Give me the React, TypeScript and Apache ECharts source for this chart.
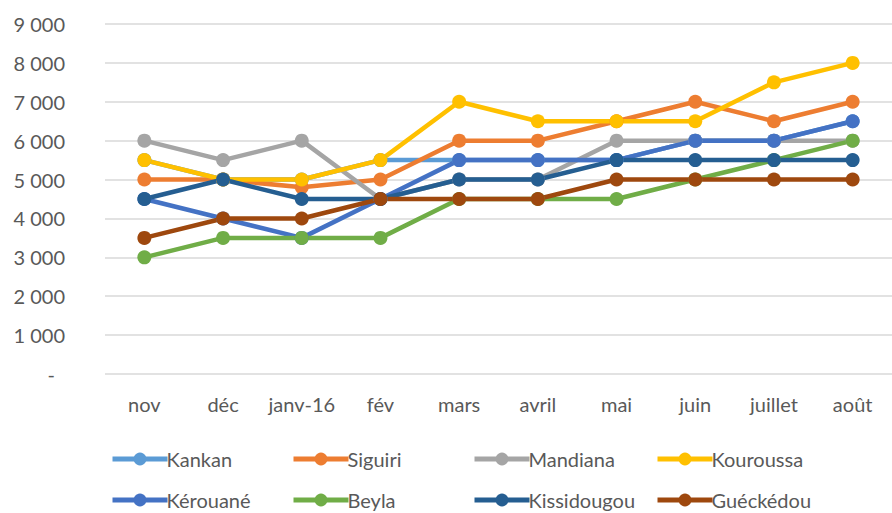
import React, { useEffect, useRef } from "react";
import * as echarts from "echarts";

const categories = ["nov", "déc", "janv-16", "fév", "mars", "avril", "mai", "juin", "juillet", "août"];
const seriesNames = ["Kankan", "Siguiri", "Mandiana", "Kouroussa", "Kérouané", "Beyla", "Kissidougou", "Guéckédou"];
const colors = ["#5B9BD5", "#ED7D31", "#A5A5A5", "#FFC000", "#4472C4", "#70AD47", "#255E91", "#9E480E"];
const kankan = [5500, 5000, 5000, 5500, 5500, 5500, 5500, 6000, 6000, 6500];
const siguiri = [5000, 5000, 4800, 5000, 6000, 6000, 6500, 7000, 6500, 7000];
const mandiana = [6000, 5500, 6000, 4500, 5000, 5000, 6000, 6000, 6000, 6000];
const kouroussa = [5500, 5000, 5000, 5500, 7000, 6500, 6500, 6500, 7500, 8000];
const kerouane = [4500, 4000, 3500, 4500, 5500, 5500, 5500, 6000, 6000, 6500];
const beyla = [3000, 3500, 3500, 3500, 4500, 4500, 4500, 5000, 5500, 6000];
const kissidougou = [4500, 5000, 4500, 4500, 5000, 5000, 5500, 5500, 5500, 5500];
const gueckedou = [3500, 4000, 4000, 4500, 4500, 4500, 5000, 5000, 5000, 5000];
const allData = [kankan, siguiri, mandiana, kouroussa, kerouane, beyla, kissidougou, gueckedou];

const FONT = "Lato";
const TEXT = "#595959";
const legendLeft = [105, 286, 467, 650];
const legendTop = [444, 485];

export default function App() {
  const ref = useRef<HTMLDivElement>(null);
  useEffect(() => {
    if (!ref.current) return;
    const chart = echarts.init(ref.current, undefined, { renderer: "svg" });
    chart.setOption({
      animation: false,
      grid: { left: 105, top: 24, width: 793, bottom: 139, containLabel: false },
      xAxis: {
        type: "category",
        data: categories,
        boundaryGap: true,
        axisLine: { show: false },
        axisTick: { show: false },
        axisLabel: { color: TEXT, fontFamily: FONT, fontSize: 20, margin: 20, interval: 0 },
      },
      yAxis: {
        type: "value",
        min: 0,
        max: 9000,
        interval: 1000,
        axisLine: { show: false },
        axisTick: { show: false },
        splitLine: { lineStyle: { color: "#D9D9D9", width: 1.5 } },
        axisLabel: {
          color: TEXT,
          fontFamily: FONT,
          fontSize: 20,
          margin: 40,
          formatter: (v: number) =>
            v === 0 ? "{d|-}" : String(v).replace(/\B(?=(\d{3})+(?!\d))/g, " "),
          rich: { d: { color: TEXT, fontFamily: FONT, fontSize: 20, padding: [0, 10, 0, 0] } },
        },
      },
      legend: seriesNames.map((name, i) => ({
        left: legendLeft[i % 4],
        top: legendTop[Math.floor(i / 4)],
        itemWidth: 55,
        itemHeight: 16,
        data: [name],
        selectedMode: false,
        lineStyle: { width: 5 },
        textStyle: { fontFamily: FONT, fontSize: 20, color: TEXT, padding: [0, 0, 0, -6] },
      })),
      series: seriesNames.map((name, i) => ({
        name,
        type: "line",
        data: allData[i],
        symbol: "circle",
        symbolSize: 14,
        color: colors[i],
        lineStyle: { width: 4.5, color: colors[i] },
        itemStyle: { color: colors[i] },
        emphasis: { disabled: true },
      })),
    });
    return () => chart.dispose();
  }, []);
  return <div ref={ref} style={{ width: 892, height: 513, position: "absolute", left: 0, top: 0 }} />;
}
